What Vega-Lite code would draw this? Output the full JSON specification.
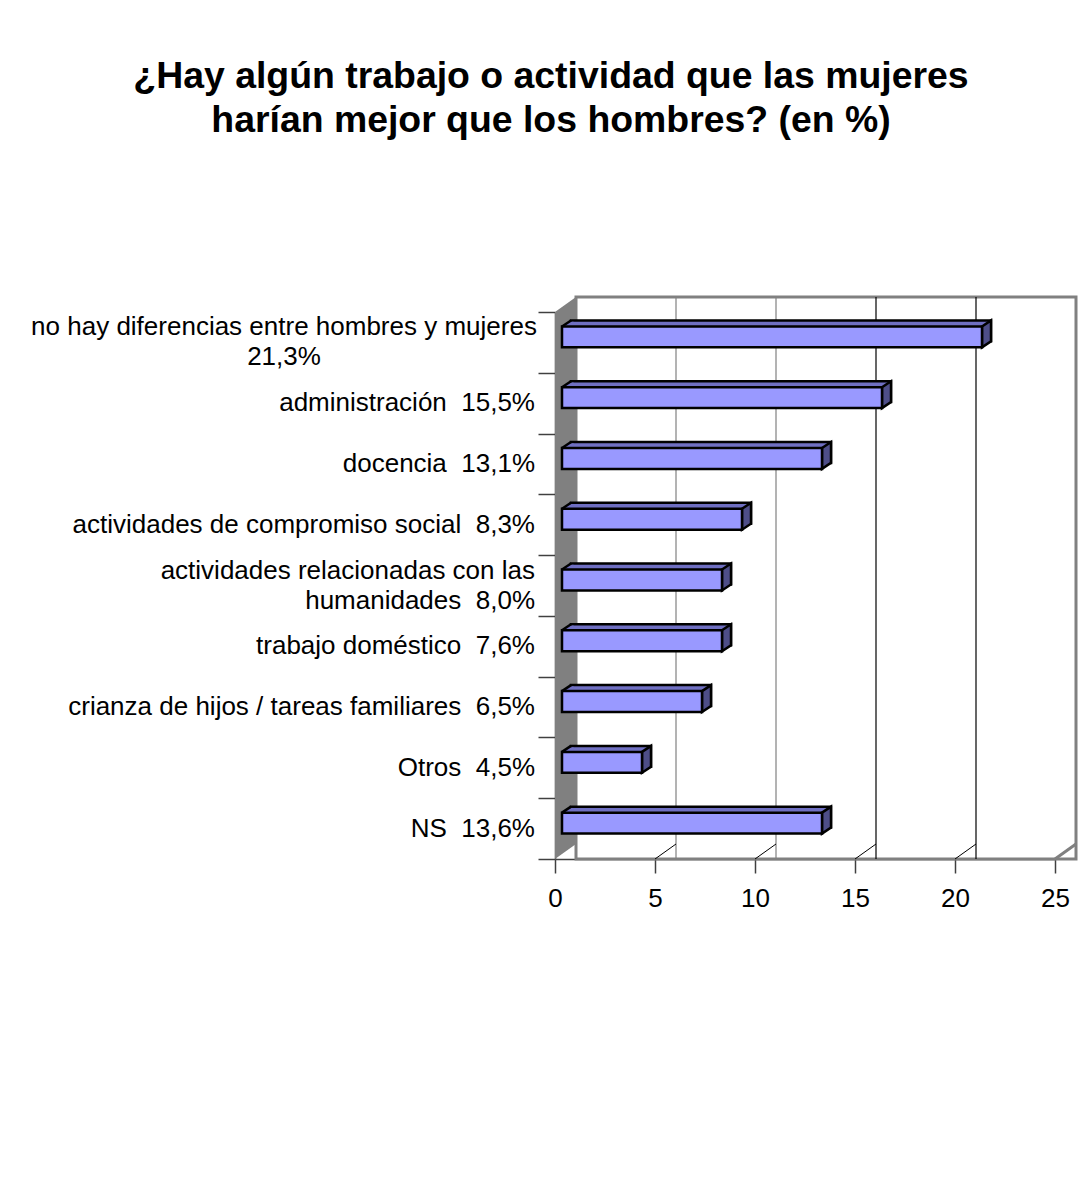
{
  "$schema": "https://vega.github.io/schema/vega-lite/v6.json",
  "autosize": "none",
  "width": 500,
  "height": 547,
  "padding": {"left": 555, "top": 312, "right": 30, "bottom": 332},
  "background": "white",
  "title": {
    "text": ["¿Hay algún trabajo o actividad que las mujeres", "harían mejor que los hombres? (en %)"],
    "font": "Liberation Sans",
    "fontSize": 37.4,
    "fontWeight": "bold",
    "color": "black",
    "anchor": "middle",
    "frame": "group",
    "dx": -254,
    "offset": 156,
    "lineHeight": 44
  },
  "config": {
    "view": {"stroke": null},
    "font": "Liberation Sans",
    "axisX": {
      "grid": false,
      "zindex": 1,
      "domainColor": "#404040",
      "domainWidth": 1.5,
      "tickColor": "#404040",
      "tickWidth": 1.5,
      "tickSize": 14,
      "labelFont": "Liberation Sans",
      "labelFontSize": 26,
      "labelColor": "black",
      "labelPadding": 12,
      "labelFlush": false,
      "tickCount": 5
    },
    "axisY": {
      "grid": false,
      "zindex": 1,
      "domainColor": "#404040",
      "domainWidth": 1.5,
      "tickColor": "#404040",
      "tickWidth": 1.5,
      "tickSize": 17,
      "tickBand": "extent",
      "labels": false
    }
  },
  "datasets": {
    "bars": [
      {"cat": "no hay diferencias entre hombres y mujeres\n21,3%", "val": 21},
      {"cat": "administración \u00a015,5%", "val": 16},
      {"cat": "docencia \u00a013,1%", "val": 13},
      {"cat": "actividades de compromiso social \u00a08,3%", "val": 9},
      {"cat": "actividades relacionadas con las\nhumanidades \u00a08,0%", "val": 8},
      {"cat": "trabajo doméstico \u00a07,6%", "val": 8},
      {"cat": "crianza de hijos / tareas familiares \u00a06,5%", "val": 7},
      {"cat": "Otros \u00a04,5%", "val": 4},
      {"cat": "NS \u00a013,6%", "val": 13}
    ],
    "ticks": [{"v": 0}, {"v": 5}, {"v": 10}, {"v": 15}, {"v": 20}, {"v": 25}],
    "one": [{"k": 1}]
  },
  "layer": [
    {
      "data": {"name": "one"},
      "mark": {"type": "rect", "fill": "white", "stroke": "#808080", "strokeWidth": 3, "xOffset": 21, "x2Offset": 21, "yOffset": -15, "y2Offset": -15},
      "encoding": {
        "x": {"datum": 0, "type": "quantitative", "scale": {"domain": [0, 25], "nice": false}, "title": null},
        "x2": {"datum": 25}
      }
    },
    {
      "data": {"name": "ticks"},
      "transform": [{"filter": "datum.v > 0 && datum.v < 25"}],
      "mark": {"type": "rule", "xOffset": 21, "yOffset": -15, "y2Offset": -15, "strokeWidth": 1.2},
      "encoding": {
        "x": {"field": "v", "type": "quantitative", "title": null},
        "stroke": {"condition": {"test": "datum.v < 12", "value": "#808080"}, "value": "#000000"}
      }
    },
    {
      "data": {"name": "ticks"},
      "transform": [{"filter": "datum.v > 0"}],
      "mark": {"type": "rule", "x2Offset": 21, "y2Offset": -15},
      "encoding": {
        "x": {"field": "v", "type": "quantitative", "title": null},
        "x2": {"field": "v"},
        "y": {"value": "height"},
        "y2": {"value": "height"},
        "stroke": {"condition": {"test": "datum.v == 25", "value": "#808080"}, "value": "#000000"},
        "strokeWidth": {"condition": {"test": "datum.v == 25", "value": 3}, "value": 1}
      }
    },
    {
      "data": {"name": "one"},
      "mark": {"type": "point", "shape": "M0,-2.735L0.21,-2.885L0.21,2.585L0,2.735Z", "size": 40000, "filled": true, "fill": "#808080", "strokeWidth": 0, "opacity": 1},
      "encoding": {
        "x": {"datum": 0, "type": "quantitative", "title": null}
      }
    },
    {
      "data": {"name": "bars"},
      "mark": {"type": "bar", "fill": "#6F6FC2", "stroke": "black", "strokeWidth": 2.5, "height": {"band": 0.344}, "xOffset": 16, "x2Offset": 16, "yOffset": -11.5, "y2Offset": -11.5},
      "encoding": {
        "y": {"field": "cat", "type": "nominal", "sort": null, "title": null, "scale": {"paddingInner": 0, "paddingOuter": 0}},
        "x": {"field": "val", "type": "quantitative", "title": null}
      }
    },
    {
      "data": {"name": "bars"},
      "mark": {"type": "point", "shape": "M0,-1.045L0.9,-1.52L1.15,-1.52L1.15,-1.045Z", "size": 400, "filled": true, "fill": "#6F6FC2", "strokeWidth": 0, "opacity": 1, "xOffset": 7, "yOffset": -5.5},
      "encoding": {
        "y": {"field": "cat", "type": "nominal", "sort": null, "title": null},
        "x": {"datum": 0, "type": "quantitative", "title": null}
      }
    },
    {
      "data": {"name": "bars"},
      "mark": {"type": "point", "shape": "M0,-1.045L0.9,-1.645", "size": 400, "filled": false, "stroke": "black", "strokeWidth": 2.5, "opacity": 1, "xOffset": 7, "yOffset": -5.5},
      "encoding": {
        "y": {"field": "cat", "type": "nominal", "sort": null, "title": null},
        "x": {"datum": 0, "type": "quantitative", "title": null}
      }
    },
    {
      "data": {"name": "bars"},
      "mark": {"type": "point", "shape": "M0,-1.045L0.9,-1.645L0.9,0.445L0,1.045Z", "size": 400, "filled": true, "fill": "#4E4E88", "stroke": "black", "strokeWidth": 2.5, "opacity": 1, "xOffset": 7, "yOffset": -5.5},
      "encoding": {
        "y": {"field": "cat", "type": "nominal", "sort": null, "title": null},
        "x": {"field": "val", "type": "quantitative", "title": null}
      }
    },
    {
      "data": {"name": "bars"},
      "mark": {"type": "bar", "fill": "#9999FF", "stroke": "black", "strokeWidth": 2.5, "height": {"band": 0.344}, "xOffset": 7, "x2Offset": 7, "yOffset": -5.5, "y2Offset": -5.5},
      "encoding": {
        "y": {"field": "cat", "type": "nominal", "sort": null, "title": null},
        "x": {"field": "val", "type": "quantitative", "title": null}
      }
    },
    {
      "data": {"name": "bars"},
      "transform": [{"filter": "indexof(datum.cat, '\\n') < 0"}],
      "mark": {"type": "text", "align": "right", "baseline": "middle", "font": "Liberation Sans", "fontSize": 26, "color": "black", "xOffset": -20},
      "encoding": {
        "y": {"field": "cat", "type": "nominal", "sort": null, "title": null},
        "x": {"datum": 0, "type": "quantitative", "title": null},
        "text": {"field": "cat"}
      }
    },
    {
      "data": {"name": "bars"},
      "transform": [{"filter": "indexof(datum.cat, 'humanidades') >= 0"}],
      "mark": {"type": "text", "align": "right", "baseline": "middle", "font": "Liberation Sans", "fontSize": 26, "color": "black", "xOffset": -20, "yOffset": -15, "lineBreak": "\n", "lineHeight": 30},
      "encoding": {
        "y": {"field": "cat", "type": "nominal", "sort": null, "title": null},
        "x": {"datum": 0, "type": "quantitative", "title": null},
        "text": {"field": "cat"}
      }
    },
    {
      "data": {"name": "bars"},
      "transform": [{"filter": "indexof(datum.cat, 'mujeres') >= 0"}],
      "mark": {"type": "text", "align": "center", "baseline": "middle", "font": "Liberation Sans", "fontSize": 26, "color": "black", "xOffset": -271, "yOffset": -15, "lineBreak": "\n", "lineHeight": 30},
      "encoding": {
        "y": {"field": "cat", "type": "nominal", "sort": null, "title": null},
        "x": {"datum": 0, "type": "quantitative", "title": null},
        "text": {"field": "cat"}
      }
    }
  ]
}
